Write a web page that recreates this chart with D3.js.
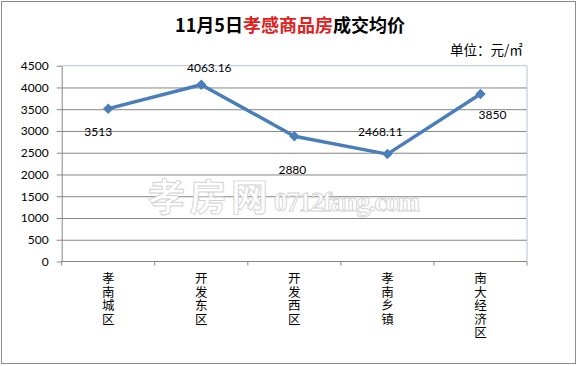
<!DOCTYPE html>
<html>
<head>
<meta charset="utf-8">
<script src="https://cdn.jsdelivr.net/npm/d3@7"></script>
<style>
  body { margin: 0; background: #fff; }
  svg { display: block; }
</style>
</head>
<body>
<svg id="chart" width="578" height="366"></svg>
<script>
var categories = ["孝南城区", "开发东区", "开发西区", "孝南乡镇", "南大经济区"];
var prices = [3513, 4063.16, 2880, 2468.11, 3850];
var priceLabels = ["3513", "4063.16", "2880", "2468.11", "3850"];
var yTicks = [0, 500, 1000, 1500, 2000, 2500, 3000, 3500, 4000, 4500];

var svg = d3.select("#chart");
var W = +svg.attr("width"), H = +svg.attr("height");
var plotL = 61.7, plotR = 527, plotT = 65.7, plotB = 261.5;

// outer frame
svg.append("rect")
    .attr("x", 1.5).attr("y", 1.5)
    .attr("width", W - 4).attr("height", H - 4)
    .attr("fill", "#fff")
    .attr("stroke", "#8c8c8c")
    .attr("stroke-width", 1);

var x = d3.scaleBand().domain(categories).range([plotL, plotR]);
var y = d3.scaleLinear().domain([0, 4500]).range([plotB, plotT]);

// gridlines
svg.append("g")
    .attr("transform", "translate(" + plotL + ",0)")
    .call(d3.axisLeft(y).tickValues(yTicks.slice(1, -1)).tickSize(-(plotR - plotL)).tickFormat(""))
    .call(function(g) { g.select(".domain").remove() })
    .selectAll("line")
    .attr("stroke", "#868686");

// plot area border top/right
svg.append("path")
    .attr("d", "M" + plotL + "," + y(4500) + "H" + plotR + "V" + plotB)
    .attr("fill", "none")
    .attr("stroke", "#b3c3da");

// y axis
var yAxis = svg.append("g")
    .attr("transform", "translate(" + plotL + ",0)")
    .call(d3.axisLeft(y).tickValues(yTicks).tickFormat(d3.format("d")).tickSize(5).tickPadding(8).tickSizeOuter(0));
yAxis.select(".domain").attr("stroke", "#868686");
yAxis.selectAll(".tick line").attr("stroke", "#868686");
yAxis.selectAll("text")
    .attr("font-family", "Lato, 'Open Sans', sans-serif")
    .attr("font-size", 12)
    .attr("fill", "#000");

// x axis line and boundary ticks
svg.append("line")
    .attr("x1", plotL).attr("x2", plotR)
    .attr("y1", plotB).attr("y2", plotB)
    .attr("stroke", "#868686");
var bounds = categories.map(function(c) { return x(c) }).concat([plotR]);
svg.append("g").selectAll("line").data(bounds).enter().append("line")
    .attr("x1", function(d) { return d }).attr("x2", function(d) { return d })
    .attr("y1", plotB).attr("y2", plotB + 4)
    .attr("stroke", "#868686");

// category labels, written top to bottom
svg.append("g").selectAll("text").data(categories).enter().append("text")
    .attr("x", function(d) { return x(d) + x.bandwidth() / 2 })
    .attr("y", 272)
    .attr("font-family", "'Noto Sans CJK SC', sans-serif")
    .attr("font-size", 12.5)
    .attr("letter-spacing", 1)
    .attr("fill", "#000")
    .style("writing-mode", "vertical-rl")
    .text(function(d) { return d });

// watermark
var wm = svg.append("g").attr("fill", "#fff").attr("stroke", "#d2d2d2").attr("stroke-width", 0.9);
wm.append("text")
    .attr("x", 148).attr("y", 211)
    .attr("font-family", "'Noto Sans CJK SC', sans-serif")
    .attr("font-size", 37)
    .attr("font-weight", "bold")
    .attr("textLength", 120)
    .text("孝房网");
wm.append("text")
    .attr("x", 274).attr("y", 211)
    .attr("font-family", "'Liberation Serif', serif")
    .attr("font-size", 27)
    .attr("font-weight", "bold")
    .attr("textLength", 146)
    .text("0712fang.com");

// series line
var line = d3.line()
    .x(function(d, i) { return x(categories[i]) + x.bandwidth() / 2 })
    .y(function(d) { return y(d) });
svg.append("path")
    .datum(prices)
    .attr("d", line)
    .attr("fill", "none")
    .attr("stroke", "#4a7ebb")
    .attr("stroke-width", 3.5)
    .attr("stroke-linejoin", "round");

svg.append("g").selectAll("path").data(prices).enter().append("path")
    .attr("d", d3.symbol().type(d3.symbolDiamond2).size(70))
    .attr("transform", function(d, i) { return "translate(" + (x(categories[i]) + x.bandwidth() / 2) + "," + y(d) + ")" })
    .attr("fill", "#4a7ebb");

// data labels (placed by hand like the original)
var labelShift = [[-10, 27], [8, -13], [-2, 38], [-7, -18], [12, 25]];
svg.append("g").selectAll("text").data(prices).enter().append("text")
    .attr("x", function(d, i) { return x(categories[i]) + x.bandwidth() / 2 + labelShift[i][0] })
    .attr("y", function(d, i) { return y(d) + labelShift[i][1] })
    .attr("text-anchor", "middle")
    .attr("font-family", "Lato, 'Open Sans', sans-serif")
    .attr("font-size", 12)
    .attr("fill", "#000")
    .text(function(d, i) { return priceLabels[i] });

// title
var title = svg.append("text")
    .attr("x", 290).attr("y", 32)
    .attr("text-anchor", "middle")
    .attr("font-family", "'Noto Sans CJK SC', sans-serif")
    .attr("font-size", 18)
    .attr("font-weight", "bold");
title.append("tspan").attr("fill", "#000").text("11月5日");
title.append("tspan").attr("fill", "#e0201c").text("孝感商品房");
title.append("tspan").attr("fill", "#000").text("成交均价");

svg.append("text")
    .attr("x", 450).attr("y", 55)
    .attr("font-family", "'Noto Sans CJK SC', sans-serif")
    .attr("font-size", 13.5)
    .attr("fill", "#000")
    .text("单位：元/㎡");
</script>
</body>
</html>
